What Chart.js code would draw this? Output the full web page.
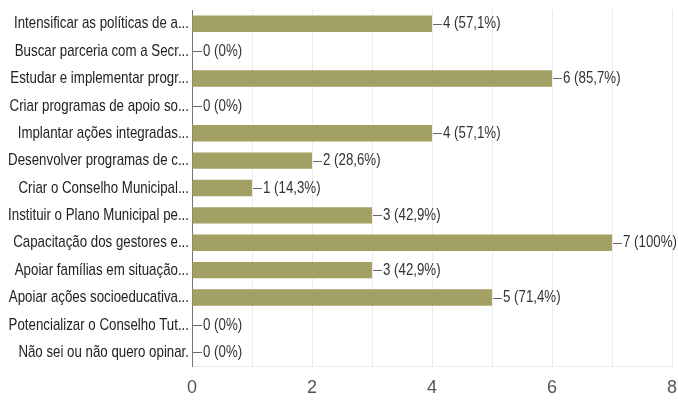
<!DOCTYPE html>
<html><head><meta charset="utf-8">
<script src="https://cdn.jsdelivr.net/npm/chart.js@4/dist/chart.umd.min.js"></script>
<style>html,body{margin:0;padding:0;background:#fff}#wrap{width:678px;height:401px}</style>
</head><body><div id="wrap"><canvas id="c" width="678" height="401"></canvas></div>
<script>
const categories = ["Intensificar as políticas de a...","Buscar parceria com a Secr...","Estudar e implementar progr...","Criar programas de apoio so...","Implantar ações integradas...","Desenvolver programas de c...","Criar o Conselho Municipal...","Instituir o Plano Municipal pe...","Capacitação dos gestores e...","Apoiar famílias em situação...","Apoiar ações socioeducativa...","Potencializar o Conselho Tut...","Não sei ou não quero opinar."];
const values = [4,0,6,0,4,2,1,3,7,3,5,0,0];
const percentLabels = ["57,1%","0%","85,7%","0%","57,1%","28,6%","14,3%","42,9%","100%","42,9%","71,4%","0%","0%"];
const xTicks = [0,2,4,6,8];
const FONT = "'Liberation Sans Narrow','Arial Narrow','Liberation Sans',sans-serif";

const textPlugin = {
  id: 'texts',
  afterDatasetsDraw(chart) {
    const ctx = chart.ctx;
    const ys = chart.scales.y;
    const meta = chart.getDatasetMeta(0);
    ctx.save();
    ctx.font = "17px " + FONT;
    // horizontal squeeze so the longest label fits the reference width
    const sx = Math.min(1, 175 / ctx.measureText(categories[0]).width);
    ctx.textBaseline = "middle";
    // category labels
    ctx.fillStyle = "#222";
    ctx.textAlign = "right";
    categories.forEach((c, i) => {
      const y = ys.getPixelForValue(i);
      ctx.save();
      ctx.translate(ys.right - 3, y);
      ctx.scale(sx, 1);
      ctx.fillText(c, 0, 0);
      ctx.restore();
    });
    // value labels
    ctx.textAlign = "left";
    ctx.fillStyle = "#333";
    ctx.strokeStyle = "#666";
    ctx.lineWidth = 1;
    meta.data.forEach((bar, i) => {
      const x = bar.x, y = Math.round(bar.y) + 0.5;
      ctx.beginPath();
      ctx.moveTo(x + 1, y);
      ctx.lineTo(x + 10, y);
      ctx.stroke();
      ctx.save();
      ctx.translate(x + 11, bar.y);
      ctx.scale(sx, 1);
      ctx.fillText(values[i] + " (" + percentLabels[i] + ")", 0, 0);
      ctx.restore();
    });
    ctx.restore();
  }
};

new Chart(document.getElementById('c'), {
  type: 'bar',
  data: { labels: categories, datasets: [{ data: values, backgroundColor: '#a3a063', barPercentage: 0.6, categoryPercentage: 1 }] },
  options: {
    indexAxis: 'y',
    responsive: false,
    animation: false,
    layout: { padding: { top: 10, right: 6, left: 0, bottom: 0 } },
    plugins: { legend: { display: false }, tooltip: { enabled: false } },
    scales: {
      x: {
        min: 0, max: 8,
        afterFit(s) { s.height = 35; s.paddingRight = 0; s.paddingLeft = 0; },
        afterBuildTicks(s) { s.ticks = [0,1,2,3,4,5,6,7,8].map(v => ({ value: v })); },
        ticks: { autoSkip: false, maxRotation: 0, padding: 11, color: '#555', font: { family: FONT, size: 18 },
          callback: v => xTicks.includes(v) ? String(v) : '' },
        grid: { color: '#ebebeb', drawTicks: false },
        border: { color: '#ebebeb' }
      },
      y: {
        afterFit(s) { s.width = 192; },
        ticks: { display: false },
        grid: { display: false, drawTicks: false },
        border: { color: '#777' }
      }
    }
  },
  plugins: [textPlugin]
});
</script></body></html>
